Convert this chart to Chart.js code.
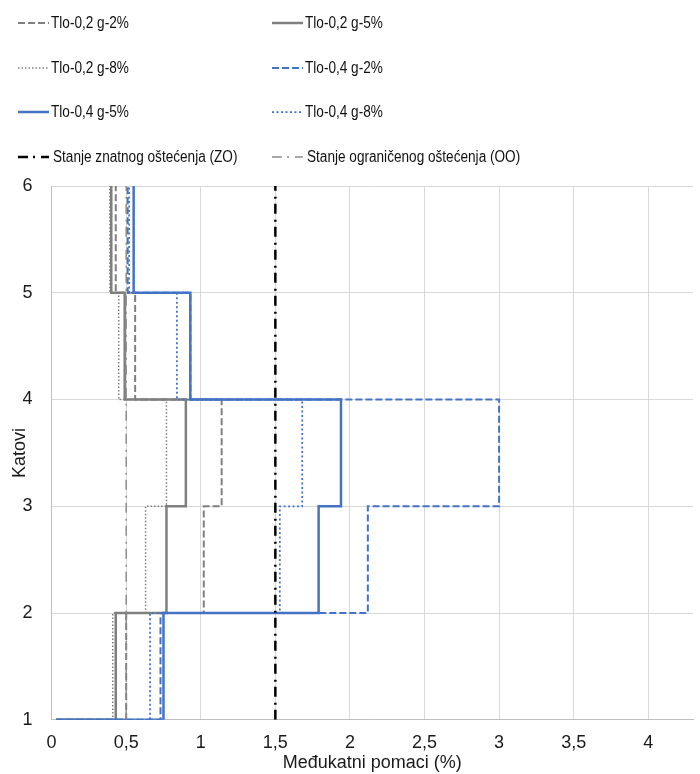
<!DOCTYPE html>
<html>
<head>
<meta charset="utf-8">
<script src="https://cdn.jsdelivr.net/npm/chart.js@4/dist/chart.umd.min.js"></script>
<style>
  html, body { margin: 0; padding: 0; background: #fff; }
  #wrap { width: 700px; height: 774px; position: relative; }
</style>
</head>
<body>
<div id="wrap"><canvas id="driftChart"></canvas></div>
<script>
// Katovi (storeys) and inter-storey drift (%) per storey 1..5
const storeys = [1, 2, 3, 4, 5, 6];
const startX = 0.03;
const g02_2 = [0.50, 1.02, 1.14, 0.56, 0.43];
const g02_5 = [0.43, 0.77, 0.90, 0.49, 0.40];
const g02_8 = [0.41, 0.63, 0.77, 0.45, 0.39];
const g04_2 = [0.73, 2.12, 3.00, 0.93, 0.51];
const g04_5 = [0.75, 1.79, 1.94, 0.93, 0.55];
const g04_8 = [0.66, 1.53, 1.68, 0.84, 0.52];
const limitZO = 1.5;
const limitOO = 0.5;
const xTicks = [0, 0.5, 1, 1.5, 2, 2.5, 3, 3.5, 4];

const GREY = '#7f7f7f';
const BLUE = '#4472c4';

// turn storey drifts into a step line
function steps(vals) {
    const pts = [{ x: startX, y: storeys[0] }];
    vals.forEach((v, i) => {
        pts.push({ x: v, y: storeys[i] });
        pts.push({ x: v, y: storeys[i + 1] });
    });
    return pts;
}
function vline(v) {
    return [{ x: v, y: storeys[0] }, { x: v, y: storeys[storeys.length - 1] }];
}

const series = [
    { label: 'Tlo-0,2 g-2%', data: steps(g02_2), borderColor: GREY, borderWidth: 2, borderDash: [7, 3] },
    { label: 'Tlo-0,2 g-5%', data: steps(g02_5), borderColor: GREY, borderWidth: 2.5, borderDash: [] },
    { label: 'Tlo-0,2 g-8%', data: steps(g02_8), borderColor: GREY, borderWidth: 1.5, borderDash: [1.5, 2] },
    { label: 'Tlo-0,4 g-2%', data: steps(g04_2), borderColor: BLUE, borderWidth: 2, borderDash: [7, 3] },
    { label: 'Tlo-0,4 g-5%', data: steps(g04_5), borderColor: BLUE, borderWidth: 2.5, borderDash: [] },
    { label: 'Tlo-0,4 g-8%', data: steps(g04_8), borderColor: BLUE, borderWidth: 1.75, borderDash: [2, 2.5] },
    { label: 'Stanje znatnog oštećenja (ZO)', data: vline(limitZO), borderColor: '#000000', borderWidth: 2.5, borderDash: [10, 5, 2, 6] },
    { label: 'Stanje ograničenog oštećenja (OO)', data: vline(limitOO), borderColor: '#8c8c8c', borderWidth: 1.5, borderDash: [10, 5, 2, 6] }
];

// legend in two columns above the plot (text is a bit narrow, like in the source)
const legendPlugin = {
    id: 'twoColLegend',
    afterDraw(chart) {
        const ctx = chart.ctx;
        const colX = [18, 272];
        const rowY = [23, 68, 112, 157];
        ctx.save();
        ctx.font = '16px "Liberation Sans", Arial, sans-serif';
        ctx.textBaseline = 'middle';
        ctx.fillStyle = '#111';
        chart.data.datasets.forEach((ds, i) => {
            const x = colX[i % 2];
            const y = rowY[Math.floor(i / 2)];
            ctx.save();
            ctx.strokeStyle = ds.borderColor;
            ctx.lineWidth = ds.borderWidth;
            ctx.setLineDash(ds.borderDash);
            ctx.beginPath();
            ctx.moveTo(x, y);
            ctx.lineTo(x + 31, y);
            ctx.stroke();
            ctx.restore();
            ctx.save();
            ctx.translate(x + 33 + (i >= 6 ? 2 : 0), y + 1);
            ctx.scale(0.85, 1);
            ctx.fillText(ds.label, 0, 0);
            ctx.restore();
        });
        ctx.restore();
    }
};

const tickFont = { family: '"Liberation Sans", Arial', size: 18 };

new Chart(document.getElementById('driftChart'), {
    type: 'scatter',
    data: {
        datasets: series.map((s, i) => ({
            ...s,
            showLine: true,
            fill: false,
            pointRadius: 0,
            tension: 0,
            order: series.length - i
        }))
    },
    options: {
        responsive: true,
        maintainAspectRatio: false,
        animation: false,
        layout: { padding: { top: 186, right: 7, left: 9, bottom: 0 } },
        plugins: {
            legend: { display: false },
            tooltip: { enabled: false }
        },
        scales: {
            x: {
                type: 'linear',
                min: 0,
                max: 4.3,
                afterBuildTicks: (scale) => {
                    scale.ticks = xTicks.map(v => ({ value: v }));
                },
                ticks: {
                    color: '#1a1a1a',
                    font: tickFont,
                    callback: (v) => String(v).replace('.', ','),
                    maxRotation: 0,
                    padding: 12
                },
                grid: { color: '#d9d9d9', drawTicks: false },
                border: { color: '#bfbfbf' },
                title: {
                    display: true,
                    text: 'Međukatni pomaci (%)',
                    color: '#1a1a1a',
                    font: tickFont,
                    padding: { top: -13, bottom: 0 }
                }
            },
            y: {
                type: 'linear',
                min: 1,
                max: 6,
                ticks: {
                    stepSize: 1,
                    color: '#1a1a1a',
                    font: tickFont,
                    padding: 19
                },
                grid: { color: '#d9d9d9', drawTicks: false },
                border: { color: '#bfbfbf' },
                title: {
                    display: true,
                    text: 'Katovi',
                    color: '#1a1a1a',
                    font: tickFont,
                    padding: { top: 0, bottom: -27 }
                }
            }
        }
    },
    plugins: [legendPlugin]
});
</script>
</body>
</html>
